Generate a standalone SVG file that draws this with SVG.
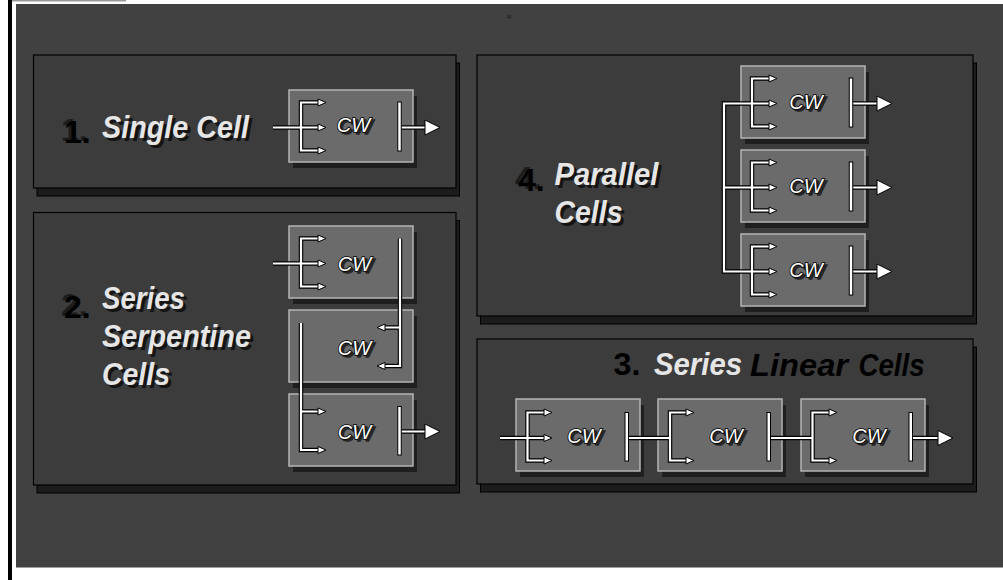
<svg xmlns="http://www.w3.org/2000/svg" width="1003" height="580" viewBox="0 0 1003 580">
<style>
.pshadow{fill:#1c1c1c;stroke:#000;stroke-width:1}
.panel{fill:#3c3c3c;stroke:#000;stroke-width:1.2}
.cshadow{fill:#1f1f1f}
.cell{fill:#6b6b6b;stroke:#b4b4b4;stroke-width:1.5}
.cw{font-family:"Liberation Sans",Arial,sans-serif;font-style:italic;font-size:20px;text-anchor:middle;fill:#fff;stroke:#000;stroke-width:1.6;paint-order:stroke fill}
.cws{font-family:"Liberation Sans",Arial,sans-serif;font-style:italic;font-size:20px;text-anchor:middle;fill:#262626;stroke:#262626;stroke-width:1.6}
.title{font-family:"Liberation Sans",Arial,sans-serif;font-style:italic;font-weight:bold;font-size:31px;fill:#e6e6e6}
.tshadow{font-family:"Liberation Sans",Arial,sans-serif;font-style:italic;font-weight:bold;font-size:31px;fill:#141414}
.num{font-family:"Liberation Sans",Arial,sans-serif;font-weight:bold;font-size:32px;fill:#000}
.numg{font-family:"Liberation Sans",Arial,sans-serif;font-weight:bold;font-size:32px;fill:#1c1c1c}
.lo{fill:none;stroke:#000;stroke-width:4.5;stroke-linejoin:miter}
.li{fill:none;stroke:#fff;stroke-width:2.2;stroke-linejoin:miter}
.ah{fill:#fff;stroke:#000;stroke-width:1}
.bar{fill:#fff;stroke:#000;stroke-width:1}
</style>
<rect x="0" y="0" width="1003" height="580" fill="#fff"/>
<rect x="8" y="0" width="4" height="580" fill="#000"/>
<rect x="12" y="0" width="114" height="1.5" fill="#9a9a9a"/>
<rect x="16" y="4" width="987" height="563.5" fill="#414141"/>
<text x="507" y="24" font-family="Liberation Sans, Arial, sans-serif" font-size="13" fill="#1a1a1a">“</text>

<!-- Panels -->
<g id="panel1">
<rect class="pshadow" x="37" y="63" width="422.5" height="133"/>
<rect class="panel" x="33.5" y="55" width="422.5" height="133"/>
<text class="numg" x="61" y="141">1.</text>
<text class="num" x="64" y="143">1.</text>
<text class="tshadow" x="105" y="140.5" textLength="147" lengthAdjust="spacingAndGlyphs">Single Cell</text>
<text class="title" x="102" y="138" textLength="147" lengthAdjust="spacingAndGlyphs">Single Cell</text>
</g>
<g id="panel2">
<rect class="pshadow" x="37" y="220.5" width="422.5" height="272.5"/>
<rect class="panel" x="33.5" y="212.5" width="422.5" height="272.5"/>
<text class="numg" x="61" y="316">2.</text>
<text class="num" x="64" y="318">2.</text>
<text class="tshadow" x="105" y="311.5" textLength="83" lengthAdjust="spacingAndGlyphs">Series</text>
<text class="title" x="102" y="309" textLength="83" lengthAdjust="spacingAndGlyphs">Series</text>
<text class="tshadow" x="105" y="349.5" textLength="149" lengthAdjust="spacingAndGlyphs">Serpentine</text>
<text class="title" x="102" y="347" textLength="149" lengthAdjust="spacingAndGlyphs">Serpentine</text>
<text class="tshadow" x="105" y="387.5" textLength="68" lengthAdjust="spacingAndGlyphs">Cells</text>
<text class="title" x="102" y="385" textLength="68" lengthAdjust="spacingAndGlyphs">Cells</text>
</g>
<g id="panel4">
<rect class="pshadow" x="480.5" y="63" width="496" height="261"/>
<rect class="panel" x="477" y="55" width="496" height="261"/>
<text class="numg" x="515" y="189">4.</text>
<text class="num" x="518" y="191">4.</text>
<text class="tshadow" x="557.5" y="187.5" textLength="104" lengthAdjust="spacingAndGlyphs">Parallel</text>
<text class="title" x="554.5" y="185" textLength="104" lengthAdjust="spacingAndGlyphs">Parallel</text>
<text class="tshadow" x="557.5" y="225.5" textLength="68" lengthAdjust="spacingAndGlyphs">Cells</text>
<text class="title" x="554.5" y="223" textLength="68" lengthAdjust="spacingAndGlyphs">Cells</text>
</g>
<g id="panel3">
<rect class="pshadow" x="480.5" y="347" width="496" height="145"/>
<rect class="panel" x="477" y="339" width="496" height="145"/>
<text class="num" x="613.5" y="375" font-size="32" textLength="27" lengthAdjust="spacingAndGlyphs">3.</text>
<text class="title" x="654" y="375" font-size="31" fill="#dcdcdc" textLength="88" lengthAdjust="spacingAndGlyphs">Series</text>
<text class="title" x="750" y="376" font-size="32" style="fill:#000" textLength="98" lengthAdjust="spacingAndGlyphs">Linear</text>
<text class="title" x="858.5" y="376" font-size="24" style="fill:#000" textLength="66" lengthAdjust="spacingAndGlyphs">Cells</text>
</g>

<!-- Cells -->
<g id="cell-single" transform="translate(289,90)">
<rect class="cshadow" x="4" y="6" width="124" height="72"/>
<rect class="cell" x="0" y="0" width="124" height="72"/>
<text class="cws" x="67" y="44">CW</text><text class="cw" x="64.5" y="41.5">CW</text>
</g>
<g id="cell-serp-1" transform="translate(289,226)">
<rect class="cshadow" x="4" y="6" width="124" height="72"/>
<rect class="cell" x="0" y="0" width="124" height="72"/>
<text class="cws" x="68" y="47">CW</text><text class="cw" x="65.5" y="44.5">CW</text>
</g>
<g id="cell-serp-2" transform="translate(289,310)">
<rect class="cshadow" x="4" y="6" width="124" height="72"/>
<rect class="cell" x="0" y="0" width="124" height="72"/>
<text class="cws" x="68" y="47">CW</text><text class="cw" x="65.5" y="44.5">CW</text>
</g>
<g id="cell-serp-3" transform="translate(289,394)">
<rect class="cshadow" x="4" y="6" width="124" height="72"/>
<rect class="cell" x="0" y="0" width="124" height="72"/>
<text class="cws" x="68" y="47">CW</text><text class="cw" x="65.5" y="44.5">CW</text>
</g>
<g id="cell-par-1" transform="translate(741,66)">
<rect class="cshadow" x="4" y="6" width="124" height="72"/>
<rect class="cell" x="0" y="0" width="124" height="72"/>
<text class="cws" x="67.5" y="45">CW</text><text class="cw" x="65" y="42.5">CW</text>
</g>
<g id="cell-par-2" transform="translate(741,150)">
<rect class="cshadow" x="4" y="6" width="124" height="72"/>
<rect class="cell" x="0" y="0" width="124" height="72"/>
<text class="cws" x="67.5" y="45">CW</text><text class="cw" x="65" y="42.5">CW</text>
</g>
<g id="cell-par-3" transform="translate(741,234)">
<rect class="cshadow" x="4" y="6" width="124" height="72"/>
<rect class="cell" x="0" y="0" width="124" height="72"/>
<text class="cws" x="67.5" y="45">CW</text><text class="cw" x="65" y="42.5">CW</text>
</g>
<g id="cell-lin-1" transform="translate(516,399)">
<rect class="cshadow" x="4" y="6" width="124" height="72"/>
<rect class="cell" x="0" y="0" width="124" height="72"/>
<text class="cws" x="70.5" y="46">CW</text><text class="cw" x="68" y="43.5">CW</text>
</g>
<g id="cell-lin-2" transform="translate(658,399)">
<rect class="cshadow" x="4" y="6" width="124" height="72"/>
<rect class="cell" x="0" y="0" width="124" height="72"/>
<text class="cws" x="70.5" y="46">CW</text><text class="cw" x="68" y="43.5">CW</text>
</g>
<g id="cell-lin-3" transform="translate(801,399)">
<rect class="cshadow" x="4" y="6" width="124" height="72"/>
<rect class="cell" x="0" y="0" width="124" height="72"/>
<text class="cws" x="70.5" y="46">CW</text><text class="cw" x="68" y="43.5">CW</text>
</g>

<!-- Connectors -->
<g id="connectors">
<defs>
<path id="wires" d="M318 102.5 H301 V150.5 H318 M273 127.5 H318 M401.5 127.5 H426
M318 238.5 H301 V286.5 H318 M273 263.5 H318
M400 238.5 V366 H385 M400 327.5 H385
M301 323 V450 H318 M301 411.5 H318 M401.5 431.5 H426
M769 103.5 H724 V271.5 H769 M724 187.5 H769
M769 78.5 H752 V126.5 H769 M769 162.5 H752 V210.5 H769 M769 246.5 H752 V294.5 H769
M852.5 103.5 H878 M852.5 187.5 H878 M852.5 271.5 H878
M544 412.5 H527.5 V460.5 H544 M500 438 H544
M628.5 438 H670 M686 412.5 H670 V460.5 H686
M770.5 438 H812.5 M829 412.5 H812.5 V460.5 H829
M912.5 438 H939"/>
</defs>
<use href="#wires" class="lo"/>
<use href="#wires" class="li"/>
<!-- bars -->
<rect class="bar" x="397.75" y="102" width="3.5" height="49"/>
<rect class="bar" x="397.75" y="406.5" width="3.5" height="48.5"/>
<rect class="bar" x="849.25" y="78" width="3.5" height="49"/>
<rect class="bar" x="849.25" y="162" width="3.5" height="49"/>
<rect class="bar" x="849.25" y="246" width="3.5" height="49"/>
<rect class="bar" x="625" y="412.5" width="3.5" height="48.5"/>
<rect class="bar" x="767" y="412.5" width="3.5" height="48.5"/>
<rect class="bar" x="909" y="412.5" width="3.5" height="48.5"/>
<!-- small arrowheads right -->
<polygon class="ah" points="318,99 326,102.5 318,106"/>
<polygon class="ah" points="318,124 326,127.5 318,131"/>
<polygon class="ah" points="318,147 326,150.5 318,154"/>
<polygon class="ah" points="318,235 326,238.5 318,242"/>
<polygon class="ah" points="318,260 326,263.5 318,267"/>
<polygon class="ah" points="318,283 326,286.5 318,290"/>
<polygon class="ah" points="318,408 326,411.5 318,415"/>
<polygon class="ah" points="318,446.5 326,450 318,453.5"/>
<polygon class="ah" points="769,75 777,78.5 769,82"/>
<polygon class="ah" points="769,100 777,103.5 769,107"/>
<polygon class="ah" points="769,123 777,126.5 769,130"/>
<polygon class="ah" points="769,159 777,162.5 769,166"/>
<polygon class="ah" points="769,184 777,187.5 769,191"/>
<polygon class="ah" points="769,207 777,210.5 769,214"/>
<polygon class="ah" points="769,243 777,246.5 769,250"/>
<polygon class="ah" points="769,268 777,271.5 769,275"/>
<polygon class="ah" points="769,291 777,294.5 769,298"/>
<polygon class="ah" points="544,409 552,412.5 544,416"/>
<polygon class="ah" points="544,434.5 552,438 544,441.5"/>
<polygon class="ah" points="544,457 552,460.5 544,464"/>
<polygon class="ah" points="686,409 694,412.5 686,416"/>
<polygon class="ah" points="686,457 694,460.5 686,464"/>
<polygon class="ah" points="829,409 837,412.5 829,416"/>
<polygon class="ah" points="829,457 837,460.5 829,464"/>
<!-- small arrowheads left -->
<polygon class="ah" points="385,324 377,327.5 385,331"/>
<polygon class="ah" points="385,362.5 377,366 385,369.5"/>
<!-- big output arrowheads -->
<polygon class="ah" points="425,120 440,127.5 425,135"/>
<polygon class="ah" points="425,424 440,431.5 425,439"/>
<polygon class="ah" points="877,96 892,103.5 877,111"/>
<polygon class="ah" points="877,180 892,187.5 877,195"/>
<polygon class="ah" points="877,264 892,271.5 877,279"/>
<polygon class="ah" points="938,430.5 953,438 938,445.5"/>
</g>
</svg>
